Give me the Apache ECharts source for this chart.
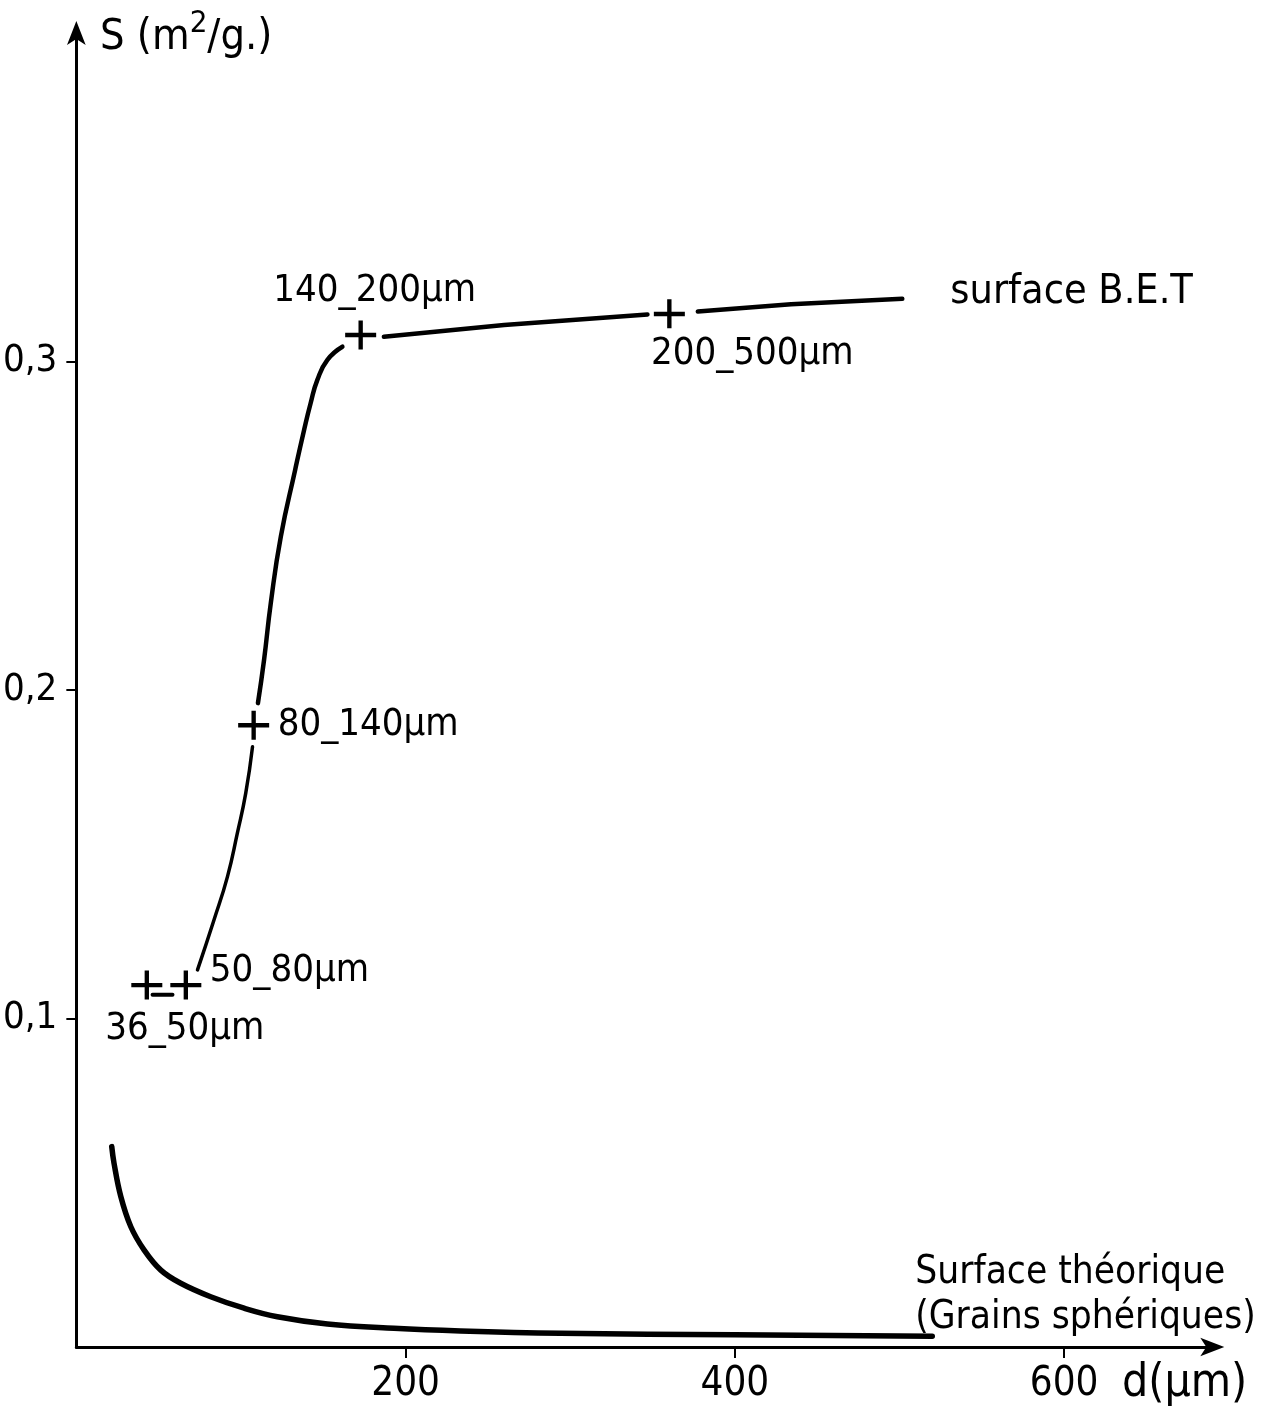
<!DOCTYPE html>
<html>
<head>
<meta charset="utf-8">
<script src="https://cdn.jsdelivr.net/npm/echarts@6/dist/echarts.min.js"></script>
<style>
html,body{margin:0;padding:0;background:#fff;}
#c{width:1267px;height:1407px;}
</style>
</head>
<body>
<div id="c"></div>
<script>
// ---- data ----
const xTicks = [200, 400, 600];
const yTicks = [0.1, 0.2, 0.3];

const sampleNames = ['36_50µm', '50_80µm', '80_140µm', '140_200µm', '200_500µm'];
const sampleD = [42.8, 66.5, 107.7, 172.7, 360.2];
const sampleS = [0.1102, 0.1102, 0.1893, 0.3081, 0.3145];

const betDashD = [46.3, 58.4];
const betDashS = [0.1072, 0.1072];
const betRiseLowD = [73.6, 83.6, 91.8, 97.8, 102.9, 107.0];
const betRiseLowS = [0.1148, 0.1300, 0.1432, 0.1564, 0.1686, 0.1827];
const betRiseHighD = [110.3, 114.0, 118.1, 124.2, 132.9, 138.3, 142.3, 146.4, 152.5, 161.6];
const betRiseHighS = [0.1960, 0.2091, 0.2264, 0.2467, 0.2670, 0.2791, 0.2873, 0.2944, 0.3005, 0.3045];
const betPlateauD = [186.8, 259.8, 346.9];
const betPlateauS = [0.3075, 0.3111, 0.3143];
const betTailD = [377.5, 434.1, 501.7];
const betTailS = [0.3152, 0.3174, 0.3191];

const theoD = [21.5, 22.9, 27.0, 33.1, 41.2, 51.3, 63.4, 81.6, 101.9, 122.1, 152.5, 192.9, 233.4, 294.1, 400.0, 519.9];
const theoS = [0.0610, 0.0559, 0.0458, 0.0366, 0.0295, 0.0234, 0.0194, 0.0153, 0.0118, 0.0092, 0.0070, 0.0057, 0.0049, 0.0042, 0.0037, 0.0033];

const betName = 'surface B.E.T';
const theoName = 'Surface théorique\n(Grains sphériques)';
const yName = 'S (m{sup|2}/g.)';
const xName = 'd(µm)';

// ---- building ----
const FONT = '"DejaVu Sans Condensed", "DejaVu Sans", sans-serif';
const pairs = (xs, ys) => xs.map((x, i) => [x, ys[i]]);
const plusPath = 'path://M0,12H30V16.2H0Z M12.9,0H17.1V28H12.9Z';

const labelLayouts = [
  {align: 'center', offset: [38, 44]},
  {align: 'left', offset: [24, -14]},
  {align: 'left', offset: [24, 0]},
  {align: 'center', offset: [14, -44]},
  {align: 'center', offset: [83, 40]}
];

const sampleData = sampleD.map((d, i) => ({
  name: sampleNames[i],
  value: [d, sampleS[i]],
  label: {
    show: true, position: 'inside', formatter: '{b}', color: '#000',
    fontSize: 38, fontFamily: FONT,
    align: labelLayouts[i].align, verticalAlign: 'middle',
    offset: labelLayouts[i].offset
  }
}));

const lineBase = (data, width, extra) => Object.assign({
  type: 'line', data: data, symbol: 'none', smooth: 0.3,
  lineStyle: {color: '#000', width: width, cap: 'round', join: 'round'}, silent: true, z: 3
}, extra || {});

const option = {
  backgroundColor: '#fff',
  animation: false,
  textStyle: {fontFamily: FONT, color: '#000'},
  grid: {left: 75.5, right: 54.7, top: 33, bottom: 60},
  xAxis: {
    type: 'value', min: 0, max: 690, interval: 200,
    axisLine: {show: true, symbol: ['none', 'arrow'], symbolSize: [14, 24], symbolOffset: [0, 12],
      lineStyle: {color: '#000', width: 3}},
    axisTick: {show: true, inside: false, length: 11, customValues: xTicks,
      lineStyle: {color: '#000', width: 2}},
    axisLabel: {show: true, customValues: xTicks, margin: 18, fontSize: 40,
      fontFamily: FONT, color: '#000'},
    splitLine: {show: false}
  },
  yAxis: {
    type: 'value', min: 0, max: 0.4, interval: 0.1,
    axisLine: {show: true, symbol: ['none', 'arrow'], symbolSize: [14, 24], symbolOffset: [0, 12],
      lineStyle: {color: '#000', width: 3}},
    axisTick: {show: true, inside: false, length: 10, customValues: yTicks,
      lineStyle: {color: '#000', width: 2}},
    axisLabel: {show: true, customValues: yTicks, margin: 19, fontSize: 38,
      fontFamily: FONT, color: '#000',
      formatter: v => v.toFixed(1).replace('.', ',')},
    splitLine: {show: false}
  },
  graphic: [
    {type: 'text', left: 100, top: 8, silent: true,
      style: {text: yName, fill: '#000', font: '43px ' + FONT, lineHeight: 60,
        rich: {sup: {fontSize: 31, lineHeight: 30, fontFamily: FONT, fill: '#000', verticalAlign: 'top'}}}},
    {type: 'text', left: 1122, top: 1361, silent: true,
      style: {text: xName, fill: '#000', font: '46px ' + FONT}}
  ],
  series: [
    lineBase(pairs(theoD, theoS), 5.5, {
      smooth: 0.4,
      endLabel: {show: true, formatter: theoName, align: 'left', verticalAlign: 'middle',
        distance: 0, offset: [-17, -41], fontSize: 38.5, lineHeight: 45, fontFamily: FONT, color: '#000'}
    }),
    lineBase(pairs(betDashD, betDashS), 4, {smooth: false}),
    lineBase(pairs(betRiseLowD, betRiseLowS), 3.5, {smooth: 0.5}),
    lineBase(pairs(betRiseHighD, betRiseHighS), 4.5, {smooth: 0.5}),
    lineBase(pairs(betPlateauD, betPlateauS), 4.5, {smooth: false}),
    lineBase(pairs(betTailD, betTailS), 4.5, {
      smooth: false,
      endLabel: {show: true, formatter: betName, align: 'left', verticalAlign: 'middle',
        distance: 0, offset: [48, -6], fontSize: 41, fontFamily: FONT, color: '#000'}
    }),
    {
      type: 'scatter', data: sampleData, symbol: plusPath, symbolSize: [31, 29],
      itemStyle: {color: '#000', opacity: 1}, silent: true, z: 4
    }
  ]
};

const chart = echarts.init(document.getElementById('c'), null, {renderer: 'canvas'});
chart.setOption(option);
</script>
</body>
</html>
